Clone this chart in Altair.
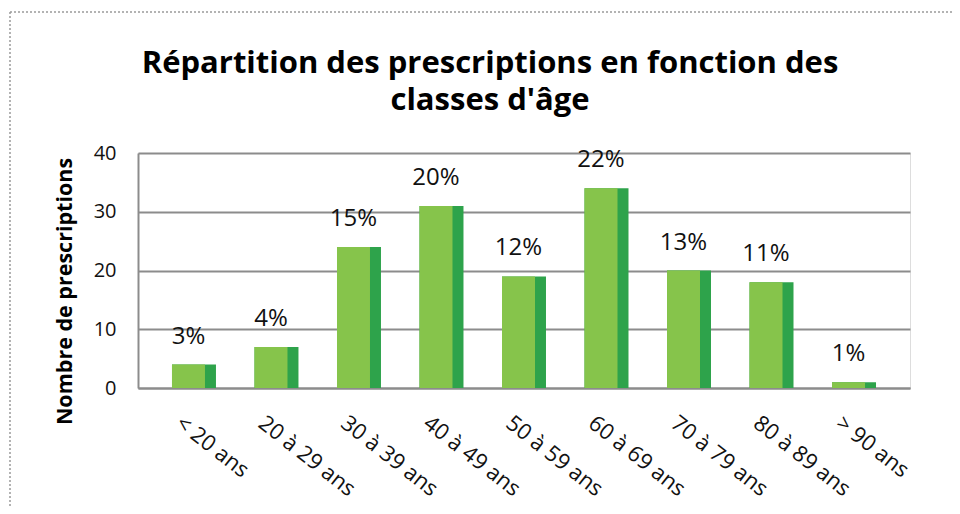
import altair as alt
import pandas as pd

# Data
categories = ["< 20 ans", "20 à 29 ans", "30 à 39 ans", "40 à 49 ans", "50 à 59 ans",
              "60 à 69 ans", "70 à 79 ans", "80 à 89 ans", "> 90 ans"]
counts = [4, 7, 24, 31, 19, 34, 20, 18, 1]
percents = ["3%", "4%", "15%", "20%", "12%", "22%", "13%", "11%", "1%"]

df = pd.DataFrame({"classe": categories, "n": counts, "pct": percents})

FONT = "Open Sans"
LIGHT = "#86C44B"
DARK = "#2EA34B"
GRID = "#8C8C8C"

x_enc = alt.X(
    "classe:N",
    sort=categories,
    scale=alt.Scale(paddingInner=0.467, paddingOuter=0.412),
    axis=alt.Axis(
        title=None,
        labelAngle=38,
        labelAlign="left",
        labelBaseline="top",
        labelFontSize=22,
        labelFont=FONT,
        labelColor="#111111",
        labelPadding=24,
        labelOffset=-9,
        labelOverlap=False,
        labelLimit=0,
        ticks=False,
        domain=True,
        domainColor=GRID,
        domainWidth=2,
        grid=False,
    ),
)

y_enc = alt.Y(
    "n:Q",
    scale=alt.Scale(domain=[0, 40], nice=False),
    axis=alt.Axis(
        title="Nombre de prescriptions",
        titleFont=FONT,
        titleFontSize=21.5,
        titleFontWeight="bold",
        titleColor="#000000",
        titleAngle=-90,
        titleAlign="center",
        titleBaseline="middle",
        titleX=-73,
        titleY=138,
        values=[0, 10, 20, 30, 40],
        labelFont=FONT,
        labelFontSize=20,
        labelColor="#111111",
        labelPadding=22,
        ticks=False,
        domain=True,
        domainColor=GRID,
        domainWidth=2,
        grid=True,
        gridColor=GRID,
        gridWidth=2,
    ),
)

side = alt.Chart(df).mark_bar(color=DARK).encode(x=x_enc, y=y_enc)
front = alt.Chart(df).mark_bar(color=LIGHT, width=33, xOffset=-5.5).encode(
    x=alt.X("classe:N", sort=categories), y="n:Q"
)
labels = alt.Chart(df).mark_text(
    font=FONT, fontSize=24, color="#111111", baseline="middle", dy=-28, xOffset=-5.5
).encode(x=alt.X("classe:N", sort=categories), y="n:Q", text="pct:N")

# dotted frame around the figure (decoration)
frame_df = pd.DataFrame({"k": [0]})
frame_top = alt.Chart(frame_df).mark_rule(
    color="#9A9A9A", strokeDash=[2, 2], strokeWidth=1.5
).encode(x=alt.value(-128), x2=alt.value(822), y=alt.value(-141))
frame_left = alt.Chart(frame_df).mark_rule(
    color="#9A9A9A", strokeDash=[2, 2], strokeWidth=1.5
).encode(x=alt.value(-128), y=alt.value(-141), y2=alt.value(361))

chart = (
    alt.layer(side, front, labels, frame_top, frame_left)
    .properties(
        width=772,
        height=235,
        autosize=alt.AutoSizeParams(type="none"),
        padding={"left": 130, "top": 145, "right": 42, "bottom": 118},
        title=alt.TitleParams(
            text=["Répartition des prescriptions en fonction des", "classes d'âge"],
            font=FONT,
            fontSize=31,
            fontWeight="bold",
            color="#000000",
            lineHeight=37,
            anchor="middle",
            dx=-34,
            dy=136,
            offset=30,
        ),
    )
    .configure_view(stroke=None)
    .configure(background="white")
)

chart.save("out.html", embed_options={"renderer": "svg", "actions": False})
